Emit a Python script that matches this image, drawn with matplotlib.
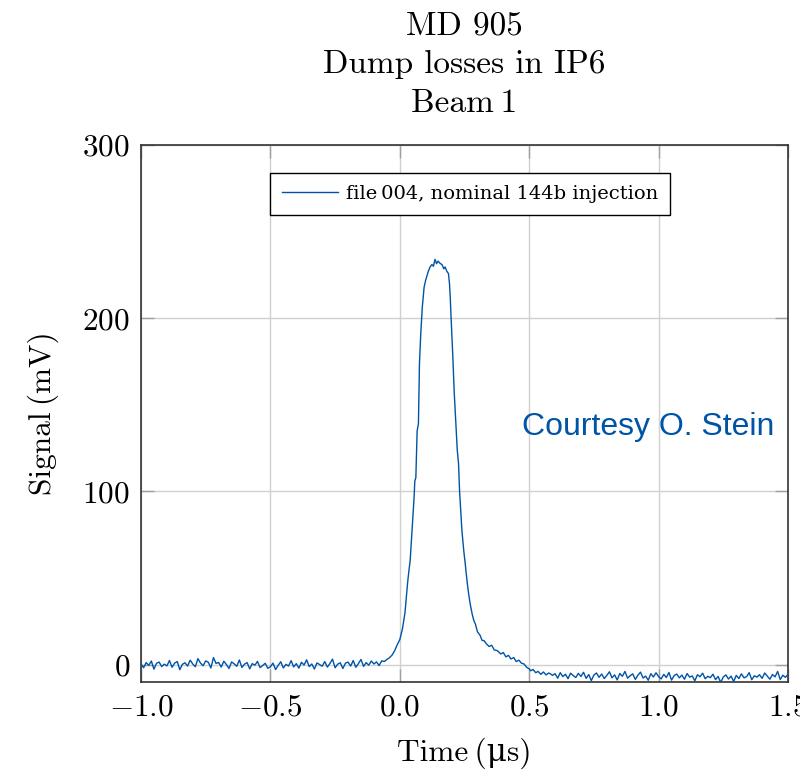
import numpy as np
import matplotlib
matplotlib.use("Agg")
import matplotlib.pyplot as plt

# ---- data (mV vs us) ----
# baseline before the pulse, sampled every 0.01 us from -1.00 to -0.07
pre_t = np.round(np.arange(-1.00, -0.065, 0.01), 2)
pre_mv = [0.5, -1.8, 1.2, -0.4, 2.1, -2.6, 0.8, 1.5, -1.1, 0.3,
          -0.7, 2.4, -1.5, 0.9, 1.8, -2.9, 0.2, 1.1, -0.8, 2.6,
          0.4, -1.2, 3.5, 0.9, -0.6, 2.2, 1.4, -1.9, 4.1, 0.7,
          1.3, -1.4, 2.0, 0.1, -2.2, 1.6, 0.5, -0.9, 2.7, -1.6,
          0.3, 1.2, -2.4, 0.6, -0.3, 1.9, -1.7, -0.5, 0.8, -2.1,
          -1.2, 0.9, -2.8, -0.4, 1.7, -1.9, 0.2, -0.8, 2.3, -1.3,
          0.6, -2.0, 1.4, -0.2, 2.8, -1.1, 0.4, -2.5, 1.0, 0.1,
          -0.9, 1.8, -1.4, 0.7, 3.2, -1.8, 0.3, 1.1, -2.2, 0.9,
          1.5, -0.8, 2.4, -1.5, 0.6, 3.0, -1.0, 1.2, -0.3, 2.1,
          0.4, 1.6, -0.5, 2.2]

# the pulse itself
pulse_t = [-0.06, -0.05, -0.04, -0.03, -0.02, -0.01, 0.00, 0.01, 0.02, 0.03,
           0.035, 0.04, 0.045, 0.05, 0.055, 0.058, 0.062, 0.067, 0.072, 0.076,
           0.081, 0.087, 0.094, 0.100, 0.104, 0.110, 0.117, 0.124, 0.130, 0.136,
           0.142, 0.148, 0.156, 0.163, 0.170, 0.175, 0.182, 0.188, 0.192, 0.195,
           0.198, 0.205, 0.210, 0.218, 0.222, 0.227, 0.231, 0.240, 0.247, 0.253,
           0.260, 0.266, 0.272, 0.280, 0.286, 0.292, 0.300, 0.310, 0.318, 0.325,
           0.335, 0.345, 0.355, 0.365, 0.377, 0.390, 0.400, 0.410, 0.420, 0.429,
           0.440, 0.450, 0.460, 0.470, 0.480, 0.490, 0.500, 0.506, 0.515, 0.525,
           0.535, 0.545, 0.555, 0.565, 0.575, 0.583, 0.590]
pulse_mv = [1.8, 3.0, 4.0, 5.5, 8.0, 11.5, 14.5, 20.5, 30.0, 47.0,
            54.0, 60.0, 72.0, 83.0, 96.0, 106.0, 108.0, 135.0, 139.0, 174.0,
            191.0, 206.5, 218.0, 222.0, 224.0, 227.0, 229.6, 231.0, 230.0, 234.0,
            231.5, 233.0, 231.6, 231.0, 228.5, 229.6, 227.0, 225.8, 220.0, 212.0,
            200.8, 177.6, 158.0, 135.0, 124.0, 116.0, 100.0, 77.5, 66.0, 58.0,
            48.0, 40.9, 35.0, 29.0, 25.5, 23.5, 19.0, 17.0, 14.0, 13.9,
            12.0, 10.5, 11.2, 8.5, 8.1, 6.2, 7.0, 4.5, 5.4, 3.3,
            4.1, 1.8, 2.6, 0.9, 0.4, -1.5, -2.4, -3.5, -2.8, -4.6,
            -3.9, -5.6, -4.2, -5.9, -4.8, -5.4, -6.2]

# undershoot after the pulse, every 0.01 us from 0.60 to 1.50
post_t = np.round(np.arange(0.60, 1.505, 0.01), 2)
post_mv = [-5.2, -7.8, -4.6, -6.9, -5.5, -8.1, -4.9, -6.3, -7.4, -5.0,
           -6.8, -4.4, -7.9, -5.7, -9.2, -6.0, -4.8, -7.3, -5.4, -8.0,
           -6.2, -4.1, -7.6, -5.9, -8.8, -5.1, -6.7, -3.9, -7.8, -6.4,
           -5.3, -8.5, -6.1, -4.3, -7.7, -6.6, -9.0, -5.2, -7.1, -4.7,
           -6.9, -8.2, -5.6, -7.4, -4.5, -8.9, -6.3, -5.4, -7.6, -6.0,
           -8.4, -5.1, -7.2, -6.5, -9.3, -5.8, -7.0, -4.9, -8.1, -6.7,
           -7.5, -5.5, -8.6, -6.8, -10.2, -7.1, -5.9, -8.3, -6.6, -9.7,
           -6.2, -8.0, -5.3, -7.6, -6.9, -4.6, -8.7, -6.4, -7.2, -5.8,
           -7.9, -4.8, -6.6, -8.4, -5.7, -7.0, -3.9, -8.6, -6.1, -7.3,
           -5.6]

xticks = [-1.0, -0.5, 0.0, 0.5, 1.0, 1.5]
yticks = [0, 100, 200, 300]

time_us = np.concatenate([pre_t, pulse_t, post_t])
signal_mv = np.concatenate([pre_mv, pulse_mv, post_mv])

blue = "#0054a6"

plt.rcParams["font.family"] = ["cmr10", "DejaVu Serif"]
plt.rcParams["mathtext.fontset"] = "cm"
plt.rcParams["axes.formatter.use_mathtext"] = True

fig = plt.figure(figsize=(8, 7.74), dpi=100)
ax = fig.add_axes([141 / 800, 92 / 774, 647 / 800, 537 / 774])

ax.plot(time_us, signal_mv, "-", color=blue, lw=1.0,
        label="file\u2009004, nominal 144b injection", zorder=3)

ax.set_xlim(-1.0, 1.5)
ax.set_ylim(-10, 300)
ax.set_xticks(xticks, labels=[f"${v:.1f}$" for v in xticks])
ax.set_yticks(yticks, labels=[f"${v}$" for v in yticks])
ax.tick_params(direction="in", length=9.5, width=1, color="#a0a0a0",
               labelsize=22.5, top=True, right=True, pad=8)
ax.grid(True, color="#d0d0d0", lw=1.0, zorder=0)
for sp in ax.spines.values():
    sp.set_color("#333333")
    sp.set_linewidth(1.2)

ax.set_title("MD 905\nDump losses in IP6\nBeam\u20091", fontsize=24,
             linespacing=1.42, pad=24)
ax.set_xlabel("Time\u2009(\u03bcs)", fontsize=22.5, labelpad=12)
ax.set_ylabel("Signal\u2009(mV)", fontsize=22.5, labelpad=17)

leg = ax.legend(loc="upper center", bbox_to_anchor=(0.5085, 0.948),
                prop={"family": "DejaVu Serif", "size": 14},
                handlelength=2.9, handletextpad=0.4, borderpad=0.62,
                borderaxespad=0, fancybox=False, framealpha=1)
leg.get_frame().set_edgecolor("black")
leg.get_frame().set_linewidth(1.0)

ax.text(0.472, 137, "Courtesy O. Stein", color=blue, fontsize=23,
        family="Liberation Sans", va="center", ha="left", zorder=4)

fig.savefig("out.png", dpi=100)
